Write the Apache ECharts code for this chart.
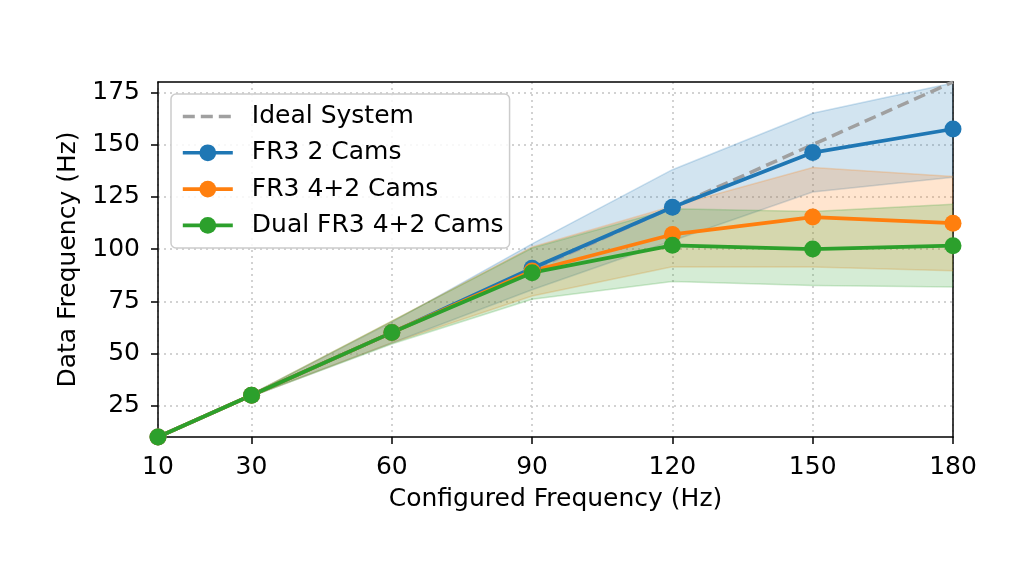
<!DOCTYPE html>
<html>
<head>
<meta charset="utf-8">
<script src="https://cdn.jsdelivr.net/npm/echarts@6/dist/echarts.min.js"></script>
<style>
html,body{margin:0;padding:0;background:#fff;}
#chart{width:1020px;height:561px;}
</style>
</head>
<body>
<div id="chart"></div>
<script>
// ---- data ----
const configured = [10, 30, 60, 90, 120, 150, 180];
const xTicks = [10, 30, 60, 90, 120, 150, 180];
const yTicks = [25, 50, 75, 100, 125, 150, 175];

const idealValues = [10, 30, 60, 90, 120, 150, 180];

const cams2Mean  = [10, 30, 60, 90.8, 120, 146.2, 157.5];
const cams2Upper = [10, 30.5, 65, 102.5, 138, 165, 179.5];
const cams2Lower = [10, 29.5, 55, 80.5, 104, 127.3, 134.4];

const cams42Mean  = [10, 30, 60, 89.5, 107, 115.3, 112.4];
const cams42Upper = [10, 30.5, 65.5, 101, 120.5, 139, 134.7];
const cams42Lower = [10, 29.5, 55, 77.5, 91.5, 91.4, 89.6];

const dualMean  = [10, 30, 60, 88.7, 101.8, 100, 101.6];
const dualUpper = [10, 30.5, 65.5, 100.5, 119.3, 118, 121.5];
const dualLower = [10, 29.5, 54.5, 76, 84.5, 82.6, 81.8];

const names = ['Ideal System', 'FR3 2 Cams', 'FR3 4+2 Cams', 'Dual FR3 4+2 Cams'];
const colors = ['#1f77b4', '#ff7f0e', '#2ca02c'];
const rgb = ['31,119,180', '255,127,14', '44,160,44'];

// ---- build options ----
const FONT = 'DejaVu Sans';
const FS = 25;
function pairs(ys) { return configured.map((x, i) => [x, ys[i]]); }

function bandSeries(up, lo, c) {
  return {
    type: 'custom', silent: true, z: 1,
    data: [[configured[0], lo[0]]],
    encode: { x: 0, y: 1 },
    renderItem: function (params, api) {
      const top = configured.map((x, i) => api.coord([x, up[i]]));
      const bot = configured.map((x, i) => api.coord([x, lo[i]]));
      const poly = top.concat(bot.slice().reverse());
      return {
        type: 'group',
        children: [
          { type: 'polygon', shape: { points: poly }, style: { fill: 'rgba(' + c + ',0.2)', stroke: null } },
          { type: 'polyline', shape: { points: top }, style: { fill: null, stroke: 'rgba(' + c + ',0.22)', lineWidth: 1.5 } },
          { type: 'polyline', shape: { points: bot }, style: { fill: null, stroke: 'rgba(' + c + ',0.22)', lineWidth: 1.5 } }
        ]
      };
    }
  };
}

function meanSeries(name, vals, color) {
  return {
    name: name, type: 'line', data: pairs(vals), z: 3,
    symbol: 'circle', symbolSize: 17,
    itemStyle: { color: color },
    lineStyle: { color: color, width: 3.75 }
  };
}

const series = [
  bandSeries(cams2Upper, cams2Lower, rgb[0]),
  bandSeries(cams42Upper, cams42Lower, rgb[1]),
  bandSeries(dualUpper, dualLower, rgb[2]),
  {
    name: names[0], type: 'line', data: pairs(idealValues), z: 2,
    symbol: 'none', itemStyle: { color: '#a0a0a0' },
    lineStyle: { color: '#a0a0a0', width: 3.5, type: [12, 6] }
  },
  meanSeries(names[1], cams2Mean, colors[0]),
  meanSeries(names[2], cams42Mean, colors[1]),
  meanSeries(names[3], dualMean, colors[2])
];

const gridLine = { show: true, lineStyle: { color: '#c4c4c4', width: 1.5, type: [2, 4] } };
const frameLine = { show: true, onZero: false, lineStyle: { color: '#000', width: 1.5 } };

const option = {
  animation: false,
  backgroundColor: '#ffffff',
  textStyle: { fontFamily: FONT },
  grid: {
    left: 158, right: 67, top: 82, bottom: 124,
    show: false
  },
  legend: {
    data: [
      { name: names[0], itemStyle: { opacity: 0 } },
      names[1], names[2], names[3]
    ],
    orient: 'vertical',
    left: 171, top: 94,
    padding: [10, 6, 10, 10],
    itemWidth: 50, itemHeight: 21, itemGap: 11.3,
    lineStyle: { width: 3.6 },
    backgroundColor: 'rgba(255,255,255,0.85)',
    borderColor: '#cccccc', borderWidth: 1.5, borderRadius: 5,
    textStyle: { fontFamily: FONT, fontSize: FS, lineHeight: 21, color: '#000', padding: [0, 0, 0, 14] }
  },
  xAxis: [{
    type: 'value', min: 10, max: 180,
    name: 'Configured Frequency (Hz)', nameLocation: 'middle', nameGap: 50,
    nameTextStyle: { fontFamily: FONT, fontSize: FS, color: '#000' },
    axisLine: frameLine,
    axisTick: { show: true, length: 7, lineStyle: { color: '#000', width: 1.5 }, customValues: xTicks },
    axisLabel: { fontFamily: FONT, fontSize: FS, color: '#000', margin: 18, customValues: xTicks },
    splitLine: gridLine
  }, {
    type: 'value', min: 10, max: 180, position: 'top',
    axisLine: frameLine, axisTick: { show: false }, axisLabel: { show: false }, splitLine: { show: false }
  }],
  yAxis: [{
    type: 'value', min: 10, max: 180,
    name: 'Data Frequency (Hz)', nameLocation: 'middle', nameGap: 70,
    nameTextStyle: { fontFamily: FONT, fontSize: FS, color: '#000' },
    axisLine: frameLine,
    axisTick: { show: true, length: 7, lineStyle: { color: '#000', width: 1.5 }, customValues: yTicks },
    axisLabel: { fontFamily: FONT, fontSize: FS, color: '#000', margin: 18, customValues: yTicks },
    splitLine: gridLine
  }, {
    type: 'value', min: 10, max: 180, position: 'right',
    axisLine: frameLine, axisTick: { show: false }, axisLabel: { show: false }, splitLine: { show: false }
  }],
  series: series
};

const chart = echarts.init(document.getElementById('chart'), null, { renderer: 'canvas' });
chart.setOption(option);
</script>
</body>
</html>
